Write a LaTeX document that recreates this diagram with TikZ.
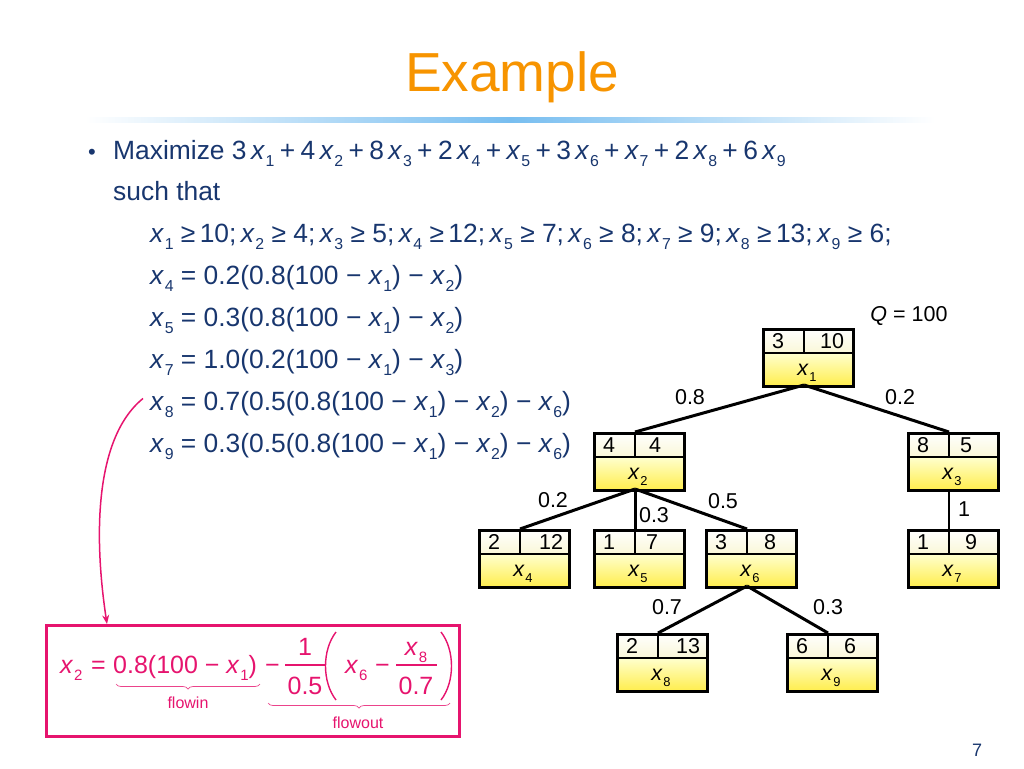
\documentclass[tikz,border=0pt]{standalone}
\usepackage{fontspec}
\usepackage{graphicx}
\setmainfont{Liberation Sans}
\usetikzlibrary{decorations.pathreplacing,arrows.meta,calc}
\definecolor{navy}{RGB}{24,54,110}
\definecolor{ttl}{RGB}{247,148,0}
\definecolor{pinkc}{RGB}{230,20,110}
\definecolor{cream}{RGB}{250,247,215}
\definecolor{ylwa}{RGB}{255,255,205}
\definecolor{ylwb}{RGB}{255,238,80}
\definecolor{rulec}{RGB}{120,190,240}
\newcommand\xv[1]{\textit{x}\kern0.6pt\raisebox{-0.3em}{\scalebox{0.6}{#1}}}
\newcommand\gp{\kern5.4pt}
\newcommand\gq{\kern4.4pt}
\newcommand\tbox[7]{%
  \node[topcell,anchor=north west] (#1t) at (#2,#3) {};
  \node[botcell,anchor=north west] (#1u) at (#2,{#3+25}) {};
  \draw[line width=2.5pt] ({#2+42},#3) -- ({#2+42},{#3+25});
  \draw[line width=2.5pt] (#2,{#3+25}) -- ({#2+90},{#3+25});
  \node[boxframe,anchor=north west] (#1) at (#2,#3) {};
  \coordinate (#1d) at ({#2+42},#3);
  \coordinate (#1b) at ({#2+42},{#3+57});
  \node[lbl,anchor=base] (#1a) at ({#2+16},{#3+20}) {#4};
  \node[lbl,anchor=base] (#1c) at ({#2+#6},{#3+20}) {#5};
  \node[lbl,anchor=base] (#1s) at ({#2+45},{#3+47}) {\xv{#7}};
}
\begin{document}
\begin{tikzpicture}[x=1pt,y=-1pt,
  eq/.style={anchor=base west,inner sep=0,text=navy,font=\fontsize{26.4}{30}\selectfont},
  peq/.style={anchor=base west,inner sep=0,text=pinkc,font=\fontsize{25}{30}\selectfont},
  lbl/.style={inner sep=0,font=\fontsize{21.5}{24}\selectfont},
  topcell/.style={inner sep=0,minimum width=90pt,minimum height=25pt,top color=white,bottom color=cream},
  botcell/.style={inner sep=0,minimum width=90pt,minimum height=32pt,top color=ylwa,bottom color=ylwb},
  boxframe/.style={draw,line width=3pt,inner sep=0,minimum width=90pt,minimum height=57pt},
  edge/.style={line width=3pt},
  thinedge/.style={line width=1.6pt},
  elbl/.style={inner sep=0,font=\fontsize{21.5}{24}\selectfont}]
\useasboundingbox (0,0) rectangle (1024,768);
% title
\node[anchor=base,inner sep=0,text=ttl,font=\fontsize{55}{60}\selectfont] (title) at (512,91) {Example};
\node[inner sep=0,minimum width=850pt,minimum height=5pt,left color=white,right color=white,middle color=rulec] (rule) at (510,120) {};
% text
\node[anchor=base,inner sep=0,text=navy,font=\fontsize{22}{26}\selectfont] (bul) at (92,159) {•};
\node[eq] (l1) at (113,159) {Maximize 3\,\xv1\gp+\gp4\,\xv2\gp+\gp8\,\xv3\gp+\gp2\,\xv4\gp+\gp\xv5\gp+\gp3\,\xv6\gp+\gp\xv7\gp+\gp2\,\xv8\gp+\gp6\,\xv9};
\node[eq] (l2) at (113,200) {such that};
\node[eq] (l3) at (150,242) {\xv1 ≥\,10;\gq\xv2 ≥ 4;\gq\xv3 ≥ 5;\gq\xv4 ≥\,12;\gq\xv5 ≥ 7;\gq\xv6 ≥ 8;\gq\xv7 ≥ 9;\gq\xv8 ≥\,13;\gq\xv9 ≥ 6;};
\node[eq] (l4) at (150,284) {\xv4 = 0.2(0.8(100 − \xv1) − \xv2)};
\node[eq] (l5) at (150,326) {\xv5 = 0.3(0.8(100 − \xv1) − \xv2)};
\node[eq] (l6) at (150,368) {\xv7 = 1.0(0.2(100 − \xv1) − \xv3)};
\node[eq] (l7) at (150,410) {\xv8 = 0.7(0.5(0.8(100 − \xv1) − \xv2) − \xv6)};
\node[eq] (l8) at (150,452) {\xv9 = 0.3(0.5(0.8(100 − \xv1) − \xv2) − \xv6)};
% tree
\node[elbl,anchor=center] (Q) at (909,316) {\textit{Q} = 100};
\tbox{x1}{762}{328}{3}{10}{70}{1}
\tbox{x2}{593}{432}{4}{4}{62}{2}
\tbox{x3}{907}{432}{8}{5}{59}{3}
\tbox{x4}{478}{529}{2}{12}{73}{4}
\tbox{x5}{593}{529}{1}{7}{59}{5}
\tbox{x6}{705}{529}{3}{8}{65}{6}
\tbox{x7}{907}{529}{1}{9}{64}{7}
\tbox{x8}{616}{633}{2}{13}{72}{8}
\tbox{x9}{786}{633}{6}{6}{64}{9}
\draw[edge] (x1b) -- (x2d);
\draw[edge] (x1b) -- (x3d);
\draw[edge] (x2b) -- (x4d);
\draw[edge] (x2b) -- (x5d);
\draw[edge] (x2b) -- (x6d);
\draw[edge] (x6b) -- (x8d);
\draw[edge] (x6b) -- (x9d);
\draw[thinedge] (x3b) -- (x7d);
\node[elbl] (e12) at (690,397) {0.8};
\node[elbl] (e13) at (900,397) {0.2};
\node[elbl] (e24) at (553,500) {0.2};
\node[elbl] (e25) at (654,515) {0.3};
\node[elbl] (e26) at (723,501) {0.5};
\node[elbl] (e37) at (964,509) {1};
\node[elbl] (e68) at (667,607) {0.7};
\node[elbl] (e69) at (828,607) {0.3};
% pink box
\node[draw=pinkc,line width=2.5pt,inner sep=0,minimum width=413pt,minimum height=111pt,anchor=north west] (pbox) at (45,624) {};
\node[peq] (p1) at (60,673) {\xv2};
\node[peq] (p2) at (91,673) {=};
\node[peq] (flowin) at (113,673) {0.8(100 − \xv1)};
\node[peq] (p3) at (265,673) {−};
\node[peq,anchor=base] (p4) at (305,655) {1};
\draw[pinkc,line width=1.4pt] (285,665) -- (325,665);
\node[peq,anchor=base] (p5) at (305,694) {0.5};
\draw[pinkc,line width=1.4pt] (336,632) .. controls (322,650) and (322,682) .. (336,700);
\node[peq] (p6) at (345,673) {\xv6};
\node[peq] (p7) at (375,673) {−};
\node[peq,anchor=base] (p8) at (416,655) {\xv8};
\draw[pinkc,line width=1.4pt] (396,665) -- (437,665);
\node[peq,anchor=base] (p9) at (416,694) {0.7};
\draw[pinkc,line width=1.4pt] (441,632) .. controls (455,650) and (455,682) .. (441,700);
\draw[pinkc!80,line width=0.7pt,decorate,decoration={brace,mirror,amplitude=5pt}] (116,684) -- (260,684);
\node[inner sep=0,text=pinkc,font=\fontsize{16}{18}\selectfont] (fin) at (188,703) {flowin};
\draw[pinkc!80,line width=0.7pt,decorate,decoration={brace,mirror,amplitude=5pt}] (268,703) -- (450,703);
\node[inner sep=0,text=pinkc,font=\fontsize{16}{18}\selectfont] (fout) at (358,723) {flowout};
\coordinate (as) at ($(l7.west)+(-7,-6)$);
\coordinate (ae) at ($(pbox.north west)+(62,0)$);
\draw[pinkc,line width=1.5pt,-{Stealth[length=9pt,width=7pt]}] (as) .. controls (92,440) and (95,545) .. (ae);
% page number
\node[inner sep=0,text=navy,font=\fontsize{18}{20}\selectfont] (pg) at (977,750) {7};
\end{tikzpicture}
\end{document}
